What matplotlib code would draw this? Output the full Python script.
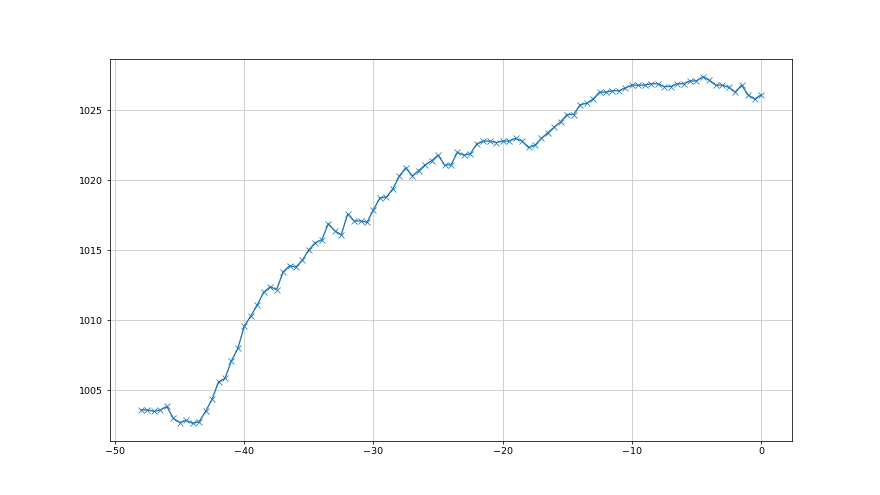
import numpy as np
import matplotlib
matplotlib.use("Agg")
import matplotlib.pyplot as plt

# hours relative to now, half-hour steps
hours = np.arange(-48, 0.5, 0.5)

# pressure readings (hPa)
pressure = [
    1003.6, 1003.6, 1003.5, 1003.6, 1003.85, 1003.0, 1002.7, 1002.85, 1002.65, 1002.75,
    1003.5, 1004.35, 1005.6, 1005.85, 1007.1, 1008.0, 1009.6, 1010.3, 1011.1, 1012.0,
    1012.4, 1012.2, 1013.45, 1013.9, 1013.8, 1014.3, 1015.05, 1015.55, 1015.75, 1016.9,
    1016.4, 1016.1, 1017.6, 1017.1, 1017.1, 1017.0, 1017.9, 1018.75, 1018.8, 1019.4,
    1020.3, 1020.9, 1020.3, 1020.7, 1021.1, 1021.4, 1021.8, 1021.1, 1021.1, 1022.0,
    1021.8, 1021.9, 1022.6, 1022.8, 1022.8, 1022.7, 1022.8, 1022.8, 1023.0, 1022.8,
    1022.35, 1022.5, 1023.0, 1023.4, 1023.8, 1024.2, 1024.7, 1024.7, 1025.4, 1025.5,
    1025.8, 1026.3, 1026.3, 1026.4, 1026.4, 1026.6, 1026.8, 1026.8, 1026.8, 1026.9,
    1026.9, 1026.7, 1026.7, 1026.9, 1026.9, 1027.1, 1027.1, 1027.4, 1027.15, 1026.8,
    1026.8, 1026.65, 1026.3, 1026.8, 1026.1, 1025.8, 1026.1,
]

fig, ax = plt.subplots(figsize=(12.8, 7.2))
ax.plot(hours[:len(pressure)], pressure, marker="x", markersize=5.5,
        markeredgewidth=0.8, linewidth=1.4)
ax.grid(True, color="#c4c4c4")

fig.savefig("out.png", dpi=68.75)
